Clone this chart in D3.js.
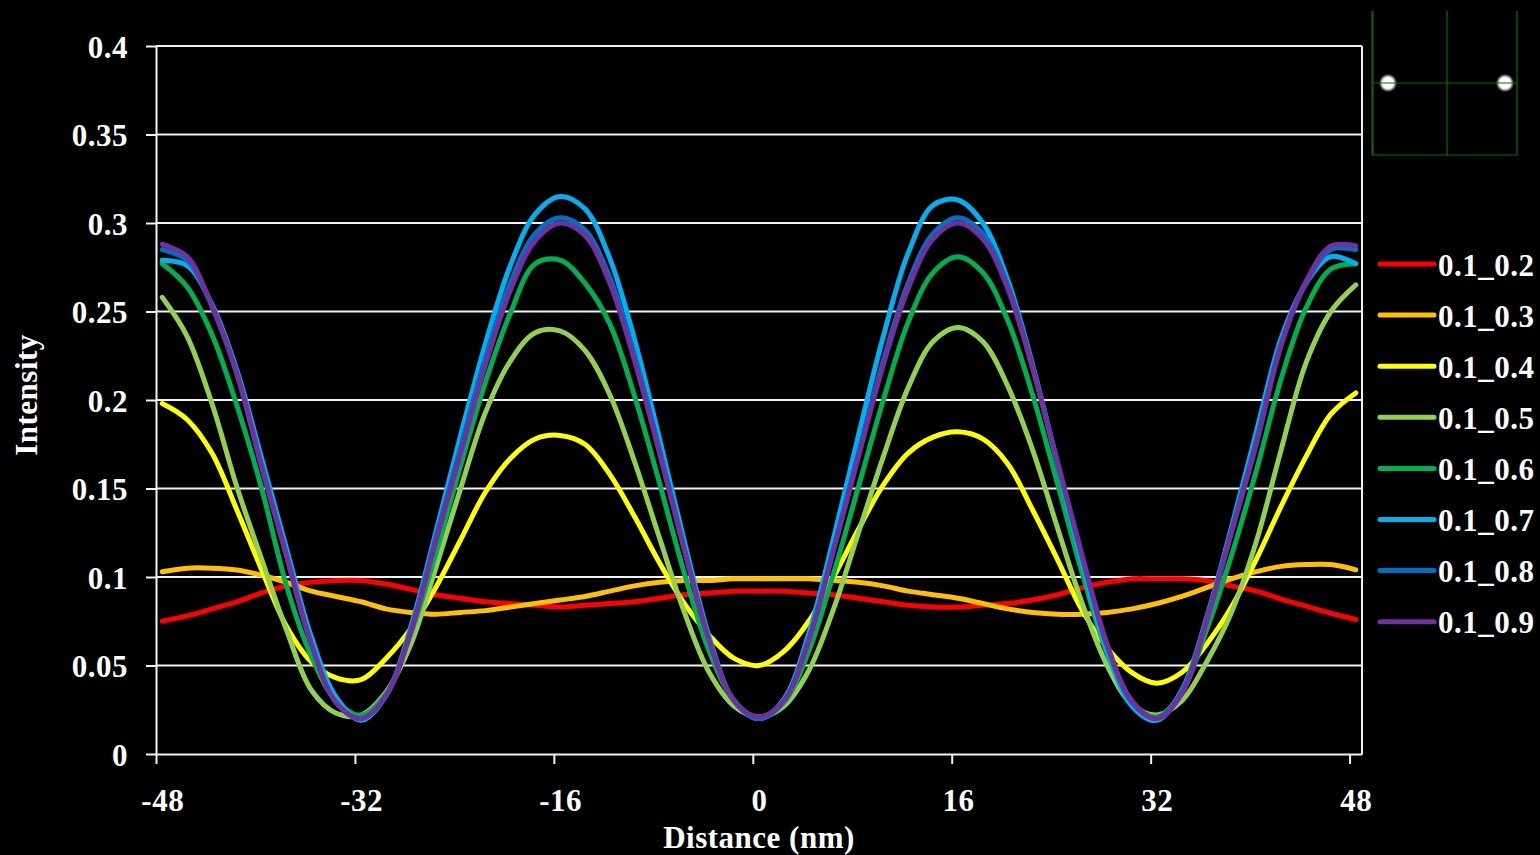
<!DOCTYPE html>
<html>
<head>
<meta charset="utf-8">
<script src="https://cdn.jsdelivr.net/npm/d3@7"></script>
<style>
  body { margin: 0; background: #000; }
  svg text { font-family: "Liberation Serif", "Times New Roman", serif; font-weight: bold; fill: #fff; letter-spacing: 0.5px; }
</style>
</head>
<body>
<div id="container"></div>
<script>
/* 1. DATA */
// distance in nm (every 2 nm)
const distance = [-48,-46,-44,-42,-40,-38,-36,-34,-32,
                  -30,-28,-26,-24,-22,-20,-18,-16,
                  -14,-12,-10,-8,-6,-4,-2,0,
                  2,4,6,8,10,12,14,16,
                  18,20,22,24,26,28,30,32,
                  34,36,38,40,42,44,46,48];

const s02 = [.075,.078,.082,.086,.091,.095,.097,.098,.098,
             .096,.093,.090,.088,.086,.085,.084,.083,
             .084,.085,.086,.088,.090,.091,.092,.092,
             .092,.091,.090,.088,.086,.084,.083,.083,
             .084,.085,.087,.090,.094,.097,.099,.099,
             .099,.098,.095,.092,.0875,.0835,.0795,.076];

const s03 = [.103,.105,.105,.104,.101,.097,.092,.089,.086,
             .082,.080,.079,.080,.081,.083,.085,.087,
             .089,.092,.095,.097,.098,.098,.099,.099,
             .099,.099,.098,.097,.095,.092,.090,.088,
             .085,.082,.080,.079,.079,.080,.082,.085,
             .089,.094,.099,.103,.106,.107,.107,.104];

const s04 = [.198,.189,.170,.138,.104,.072,.052,.043,.042,
             .054,.071,.094,.121,.148,.167,.178,.180,
             .175,.158,.134,.108,.085,.067,.054,.050,
             .058,.075,.100,.127,.152,.170,.179,.182,
             .178,.164,.138,.110,.081,.060,.046,.040,
             .046,.062,.083,.110,.140,.168,.192,.204];

const s05 = [.258,.236,.198,.151,.110,.070,.036,.023,.022,
             .035,.062,.105,.150,.193,.222,.238,.239,
             .228,.203,.165,.122,.080,.046,.027,.021,
             .027,.047,.082,.125,.168,.207,.233,.241,
             .233,.208,.172,.128,.085,.050,.028,.022,
             .030,.052,.080,.120,.172,.221,.250,.265];

const s06 = [.277,.264,.237,.197,.150,.095,.055,.030,.022,
             .034,.068,.113,.163,.210,.249,.277,.279,
             .266,.243,.202,.153,.102,.058,.030,.020,
             .029,.058,.102,.151,.200,.244,.272,.281,
             .272,.245,.203,.153,.102,.057,.029,.021,
             .035,.070,.112,.160,.212,.252,.274,.277];

const s07 = [.279,.276,.254,.217,.167,.116,.066,.032,.019,
             .033,.072,.125,.180,.232,.276,.305,.315,
             .308,.280,.234,.178,.120,.066,.030,.020,
             .031,.068,.122,.180,.236,.283,.310,.313,
             .300,.268,.220,.164,.108,.058,.027,.019,
             .036,.077,.128,.182,.235,.266,.281,.277];

const s08 = [.285,.279,.253,.215,.163,.112,.062,.029,.020,
             .033,.070,.122,.173,.224,.266,.294,.303,
             .296,.269,.225,.172,.116,.064,.030,.020,
             .030,.065,.116,.170,.222,.266,.294,.303,
             .294,.265,.219,.165,.111,.061,.029,.020,
             .035,.076,.126,.177,.232,.266,.285,.285];

const s09 = [.288,.281,.253,.215,.162,.112,.062,.029,.020,
             .033,.069,.120,.170,.220,.262,.290,.300,
             .293,.266,.222,.170,.115,.064,.030,.021,
             .030,.064,.115,.168,.220,.263,.291,.300,
             .291,.263,.218,.165,.112,.062,.030,.020,
             .034,.075,.125,.175,.231,.267,.287,.287];

const seriesNames = ["0.1_0.2","0.1_0.3","0.1_0.4","0.1_0.5","0.1_0.6","0.1_0.7","0.1_0.8","0.1_0.9"];
const seriesValues = [s02, s03, s04, s05, s06, s07, s08, s09];
const seriesColors = ["#FF0000","#FFC000","#FFFF00","#92D050","#00B050","#00B0F0","#0070C0","#7030A0"];

const yTicks = [0, 0.05, 0.1, 0.15, 0.2, 0.25, 0.3, 0.35, 0.4];
const yTickLabels = ["0","0.05","0.1","0.15","0.2","0.25","0.3","0.35","0.4"];
const xTicks = [-48, -32, -16, 0, 16, 32, 48];

/* 2. LAYOUT */
const width = 1540, height = 855;
const plot = {left: 156, right: 1362, top: 46, bottom: 754};
const fontSize = 31;

const svg = d3.select("#container").append("svg")
  .attr("width", width)
  .attr("height", height)
  .style("background", "#000");

/* 3. SCALES */
// category axis: each nm is one band, points sit in the middle of the band
const xScale = d3.scaleLinear().domain([-48.5, 48.5]).range([plot.left, plot.right]);
const yScale = d3.scaleLinear().domain([0, 0.4]).range([plot.bottom, plot.top]);

// gridlines
svg.append("g").selectAll("line")
  .data(yTicks.filter(d => d > 0))
  .join("line")
  .attr("x1", plot.left).attr("x2", plot.right)
  .attr("y1", d => yScale(d)).attr("y2", d => yScale(d))
  .attr("stroke", "#f2f2f2").attr("stroke-width", 2);

// right border of plot area
svg.append("line")
  .attr("x1", plot.right).attr("x2", plot.right)
  .attr("y1", plot.top).attr("y2", plot.bottom)
  .attr("stroke", "#f2f2f2").attr("stroke-width", 2);

/* 4. AXES */
const yAxis = d3.axisLeft(yScale)
  .tickValues(yTicks)
  .tickSize(10)
  .tickSizeOuter(0)
  .tickPadding(18)
  .tickFormat((d, i) => yTickLabels[i]);

const gy = svg.append("g")
  .attr("transform", `translate(${plot.left},0)`)
  .call(yAxis);

const xAxis = d3.axisBottom(xScale)
  .tickValues(xTicks.map(d => d - 0.5))
  .tickSize(10)
  .tickSizeOuter(0)
  .tickFormat((d, i) => String(xTicks[i]));

const gx = svg.append("g")
  .attr("transform", `translate(0,${plot.bottom})`)
  .call(xAxis);

gx.selectAll(".tick text")
  .attr("x", xScale(0) - xScale(-0.5))
  .attr("y", 57)
  .attr("dy", 0);

gy.selectAll(".tick text").attr("dy", "0.36em");

[gx, gy].forEach(g => {
  g.select(".domain").attr("stroke", "#f2f2f2").attr("stroke-width", 2);
  g.selectAll(".tick line").attr("stroke", "#f2f2f2").attr("stroke-width", 2);
  g.selectAll(".tick text")
    .attr("font-size", fontSize)
    .attr("font-family", "Liberation Serif, Times New Roman, serif")
    .attr("font-weight", "bold")
    .attr("fill", "#fff");
});

// axis titles
svg.append("text")
  .attr("x", 759)
  .attr("y", 848)
  .attr("text-anchor", "middle")
  .attr("font-size", fontSize)
  .text("Distance (nm)");

svg.append("text")
  .attr("transform", "translate(37,395) rotate(-90)")
  .attr("text-anchor", "middle")
  .attr("font-size", fontSize)
  .text("Intensity");

/* 5. LINES */
const line = d3.line()
  .x((d, i) => xScale(distance[i]))
  .y(d => yScale(d))
  .curve(d3.curveCatmullRom.alpha(0.5));

svg.append("g").selectAll("path")
  .data(seriesValues)
  .join("path")
  .attr("d", d => line(d))
  .attr("fill", "none")
  .attr("stroke", (d, i) => seriesColors[i])
  .attr("stroke-width", 5)
  .attr("stroke-linejoin", "round")
  .attr("stroke-linecap", "round");

/* 6. LEGEND */
const legend = svg.append("g").attr("transform", "translate(1380,264)");
const rowH = 51.1;

legend.selectAll("line")
  .data(seriesNames)
  .join("line")
  .attr("x1", 0).attr("x2", 54)
  .attr("y1", (d, i) => i * rowH).attr("y2", (d, i) => i * rowH)
  .attr("stroke", (d, i) => seriesColors[i])
  .attr("stroke-width", 5)
  .attr("stroke-linecap", "round");

legend.selectAll("text")
  .data(seriesNames)
  .join("text")
  .attr("x", 58)
  .attr("y", (d, i) => i * rowH + 11.5)
  .attr("font-size", fontSize)
  .text(d => d);

/* 7. INSET (two-spot image) */
const inset = svg.append("g");
const defs = svg.append("defs");
defs.append("filter").attr("id", "blur")
  .append("feGaussianBlur").attr("stdDeviation", 1.3);

inset.selectAll("circle")
  .data([1388, 1505])
  .join("circle")
  .attr("cx", d => d).attr("cy", 83).attr("r", 7.5)
  .attr("fill", "#fff")
  .attr("filter", "url(#blur)");

const insetGreen = "#0d6a0d";
inset.append("line").attr("x1", 1372).attr("x2", 1372).attr("y1", 11).attr("y2", 155)
  .attr("stroke", "#555").attr("stroke-width", 1);
[[1373, 11, 1373, 155], [1517, 11, 1517, 155], [1447, 11, 1447, 155],
 [1372, 155, 1517, 155], [1373, 83, 1517, 83]].forEach(c => {
  inset.append("line")
    .attr("x1", c[0]).attr("y1", c[1]).attr("x2", c[2]).attr("y2", c[3])
    .attr("stroke", insetGreen).attr("stroke-width", 1.2);
});
</script>
</body>
</html>
